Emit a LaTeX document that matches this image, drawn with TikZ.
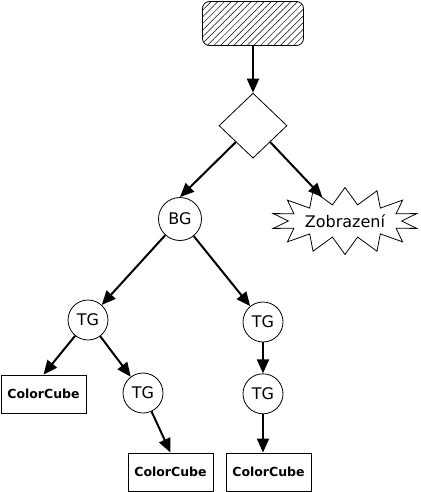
\documentclass[tikz,border=0pt]{standalone}
\usepackage{fontspec}
\setmainfont{DejaVu Sans}
\usetikzlibrary{arrows.meta,positioning,shapes.geometric,shapes.symbols,patterns.meta}
\tikzset{
    %Define standard arrow tip
    >={Triangle[length=14pt,width=12pt]},
    %Define style for group nodes
    group/.style={
           circle,
           draw=black, line width=0.8pt,
           minimum size=40pt,
           inner sep=0pt,
           font=\fontsize{16}{19}\selectfont},
    %Define style for shape boxes
    shapebox/.style={
           rectangle,
           draw=black, line width=0.9pt,
           minimum width=85pt,
           minimum height=38pt,
           inner sep=0pt,
           font=\bfseries\fontsize{12.5}{15}\selectfont},
    rootbox/.style={
           rectangle,
           rounded corners=7pt,
           draw=black, line width=0.8pt,
           minimum width=101pt,
           minimum height=44pt,
           pattern={Lines[angle=45,distance=4.7pt,line width=0.5pt]}},
    choice/.style={
           diamond,
           draw=black, line width=0.8pt,
           minimum width=68pt,
           minimum height=65pt,
           inner sep=0pt},
    view/.style={
           starburst,
           starburst points=14,
           starburst point height=17pt,
           random starburst=0,
           draw=black, line width=0.8pt,
           minimum width=145pt,
           minimum height=67pt,
           inner sep=0pt,
           font=\fontsize{16}{19}\selectfont},
    % Define arrow style
    pil/.style={
           ->,
           line width=2pt}
}
\begin{document}
\begin{tikzpicture}[x=1pt,y=-1pt]
\useasboundingbox (0,0) rectangle (420,492);
\node[rootbox](root) at (253,23.5){};
\node[choice, below=47pt of root](dia){};
\node[group, minimum size=43pt](bg) at (180,219){BG};
\node[view](zob) at (345,221){Zobrazení};
\node[group](tgl) at (88,320){TG};
\node[group](tgr1) at (263,322){TG};
\node[group, below=31pt of tgr1](tgr2){TG};
\node[group](tgm) at (143,393){TG};
\node[shapebox](ccl) at (43.5,394){ColorCube};
\node[shapebox](ccm) at (170.5,472){ColorCube};
\node[shapebox](ccr) at (268.5,472){ColorCube};

\path[pil]
	(root) edge (dia)
	(dia.south west) edge (bg.north)
	(dia.south east) edge (zob)
	(bg) edge (tgl)
	(bg) edge (tgr1)
	(tgl) edge (ccl.north)
	(tgl) edge (tgm)
	(tgm) edge (ccm.north)
	(tgr1) edge (tgr2)
	(tgr2) edge (tgr2 |- ccr.north);

\end{tikzpicture}
\end{document}
